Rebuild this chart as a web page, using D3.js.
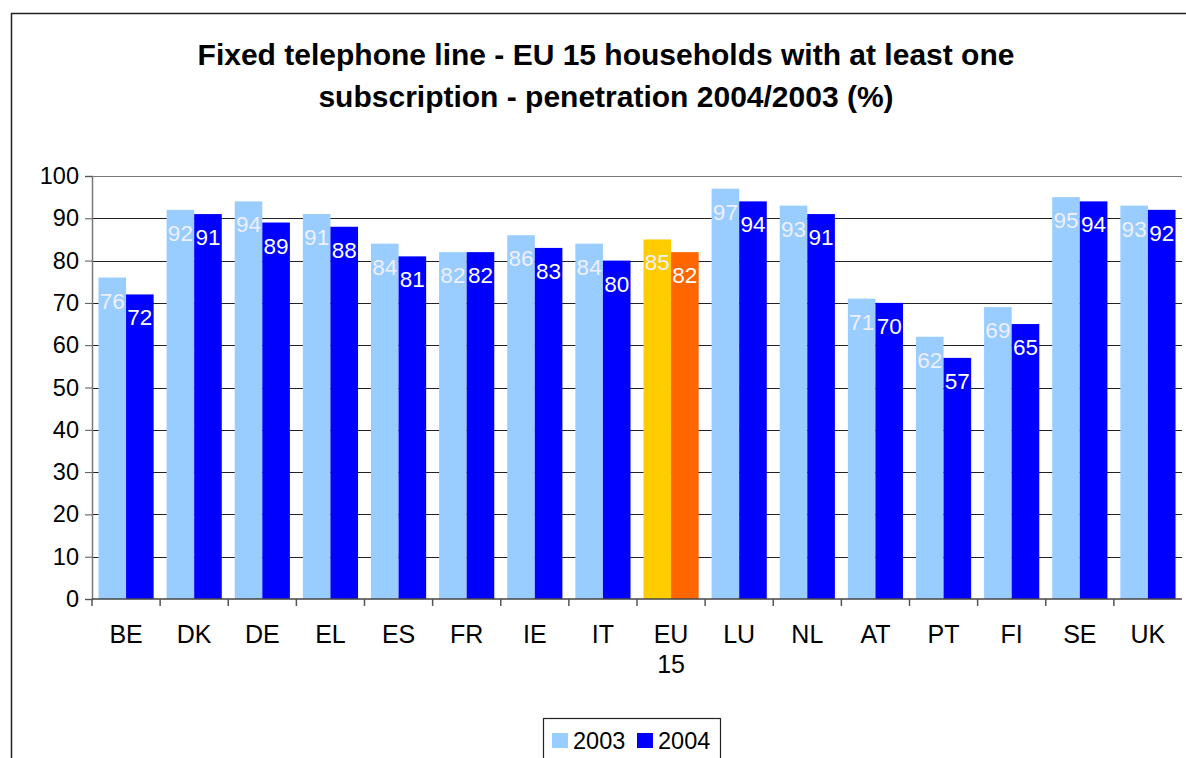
<!DOCTYPE html>
<html lang="en">
<head>
    <meta charset="UTF-8">
    <title>Fixed telephone line</title>
    <script src="https://cdn.jsdelivr.net/npm/d3@7"></script>
    <style>
        body { margin: 0; background: #fff; }
        svg { font-family: "Liberation Sans", Arial, sans-serif; }
    </style>
</head>
<body>
    <div id="chart"></div>

    <script>
        const countries = ["BE", "DK", "DE", "EL", "ES", "FR", "IE", "IT", "EU 15", "LU", "NL", "AT", "PT", "FI", "SE", "UK"];
        const values2003 = [76, 92, 94, 91, 84, 82, 86, 84, 85, 97, 93, 71, 62, 69, 95, 93];
        const values2004 = [72, 91, 89, 88, 81, 82, 83, 80, 82, 94, 91, 70, 57, 65, 94, 92];
        const years = ["2003", "2004"];
        const yTicks = [0, 10, 20, 30, 40, 50, 60, 70, 80, 90, 100];

        const width = 1186;
        const height = 758;
        const marginTop = 176;
        const marginRight = 4;
        const marginBottom = 159;
        const marginLeft = 92;

        const colors = {"2003": "#99ccff", "2004": "#0000ff"};
        const euColors = {"2003": "#ffcc00", "2004": "#ff6600"};
        const labelColors = {"2003": "#eef0ff", "2004": "#ffffff"};

        const data = countries.map((c, i) => ({country: c, "2003": values2003[i], "2004": values2004[i]}));

        const svg = d3.select("#chart").append("svg")
            .attr("width", width)
            .attr("height", height);

        // outer chart frame
        svg.append("rect")
            .attr("x", 11.5).attr("y", 13.5)
            .attr("width", 1200).attr("height", 800)
            .attr("fill", "none")
            .attr("stroke", "#222")
            .attr("stroke-width", 1.5);

        const x = d3.scaleBand()
            .domain(countries)
            .range([marginLeft, width - marginRight])
            .paddingInner(0.19)
            .paddingOuter(0.095);

        const x1 = d3.scaleBand()
            .domain(years)
            .range([0, x.bandwidth()]);

        const y = d3.scaleLinear()
            .domain([0, 100])
            .range([height - marginBottom, marginTop]);

        // title
        svg.append("text")
            .attr("x", 606)
            .attr("text-anchor", "middle")
            .attr("font-size", 30)
            .attr("font-weight", "bold")
            .selectAll("tspan")
            .data(["Fixed telephone line - EU 15 households with at least one",
                   "subscription - penetration 2004/2003 (%)"])
            .join("tspan")
            .attr("x", 606)
            .attr("y", (d, i) => 65 + i * 42)
            .text(d => d);

        // gridlines
        svg.append("g")
            .selectAll("line")
            .data(yTicks.slice(1))
            .join("line")
            .attr("x1", marginLeft)
            .attr("x2", width - marginRight)
            .attr("y1", d => Math.round(y(d)) + 0.5)
            .attr("y2", d => Math.round(y(d)) + 0.5)
            .attr("stroke", d => d === 100 ? "#777" : "#222")
            .attr("stroke-width", 1.2);

        // bars
        const group = svg.append("g")
            .selectAll("g")
            .data(data)
            .join("g")
            .attr("transform", d => `translate(${x(d.country)},0)`);

        group.selectAll("rect")
            .data(d => years.map(k => ({key: k, value: d[k], eu: d.country === "EU 15"})))
            .join("rect")
            .attr("x", d => x1(d.key))
            .attr("y", d => y(d.value))
            .attr("width", x1.bandwidth())
            .attr("height", d => y(0) - y(d.value))
            .attr("fill", d => d.eu ? euColors[d.key] : colors[d.key]);

        group.selectAll("text")
            .data(d => years.map(k => ({key: k, value: d[k]})))
            .join("text")
            .attr("x", d => x1(d.key) + x1.bandwidth() / 2)
            .attr("y", d => y(d.value) + 31)
            .attr("text-anchor", "middle")
            .attr("font-size", 22.5)
            .attr("fill", d => labelColors[d.key])
            .text(d => d.value);

        // y axis
        svg.append("g")
            .attr("transform", `translate(${marginLeft},0)`)
            .call(d3.axisLeft(y).tickValues(yTicks).tickSize(7).tickPadding(6))
            .call(g => g.select(".domain").attr("stroke", "#777").attr("stroke-width", 1.5))
            .call(g => g.selectAll(".tick line").attr("stroke", "#555"))
            .call(g => g.selectAll(".tick text")
                .attr("font-size", 23.5)
                .attr("font-family", "Liberation Sans, Arial, sans-serif")
                .attr("fill", "#000"));

        // x axis
        const xAxis = svg.append("g")
            .attr("transform", `translate(0,${y(0)})`);

        xAxis.append("line")
            .attr("x1", marginLeft).attr("x2", width - marginRight)
            .attr("stroke", "#444").attr("stroke-width", 1.5);

        xAxis.selectAll(".sep")
            .data(countries)
            .join("line")
            .attr("class", "sep")
            .attr("x1", d => x(d) - x.step() * x.paddingInner() / 2)
            .attr("x2", d => x(d) - x.step() * x.paddingInner() / 2)
            .attr("y1", 0).attr("y2", 7)
            .attr("stroke", "#555").attr("stroke-width", 1.5);

        xAxis.selectAll(".cat")
            .data(countries)
            .join("text")
            .attr("class", "cat")
            .attr("text-anchor", "middle")
            .attr("font-size", 25)
            .selectAll("tspan")
            .data(d => d.split(" ").map(t => ({t, c: d})))
            .join("tspan")
            .attr("x", d => x(d.c) + x.bandwidth() / 2)
            .attr("y", (d, i) => 44 + i * 30)
            .text(d => d.t);

        // legend
        const legend = svg.append("g").attr("transform", "translate(543,718)");
        legend.append("rect")
            .attr("x", 0.5).attr("y", 0.5)
            .attr("width", 177).attr("height", 60)
            .attr("fill", "#fff").attr("stroke", "#222").attr("stroke-width", 1.2);

        const item = legend.selectAll(".item")
            .data(years)
            .join("g")
            .attr("class", "item")
            .attr("transform", (d, i) => `translate(${9 + i * 85},15)`);

        item.append("rect")
            .attr("width", 16).attr("height", 15)
            .attr("fill", d => colors[d]);

        item.append("text")
            .attr("x", 21).attr("y", 16)
            .attr("font-size", 23.5)
            .text(d => d);
    </script>
</body>
</html>
